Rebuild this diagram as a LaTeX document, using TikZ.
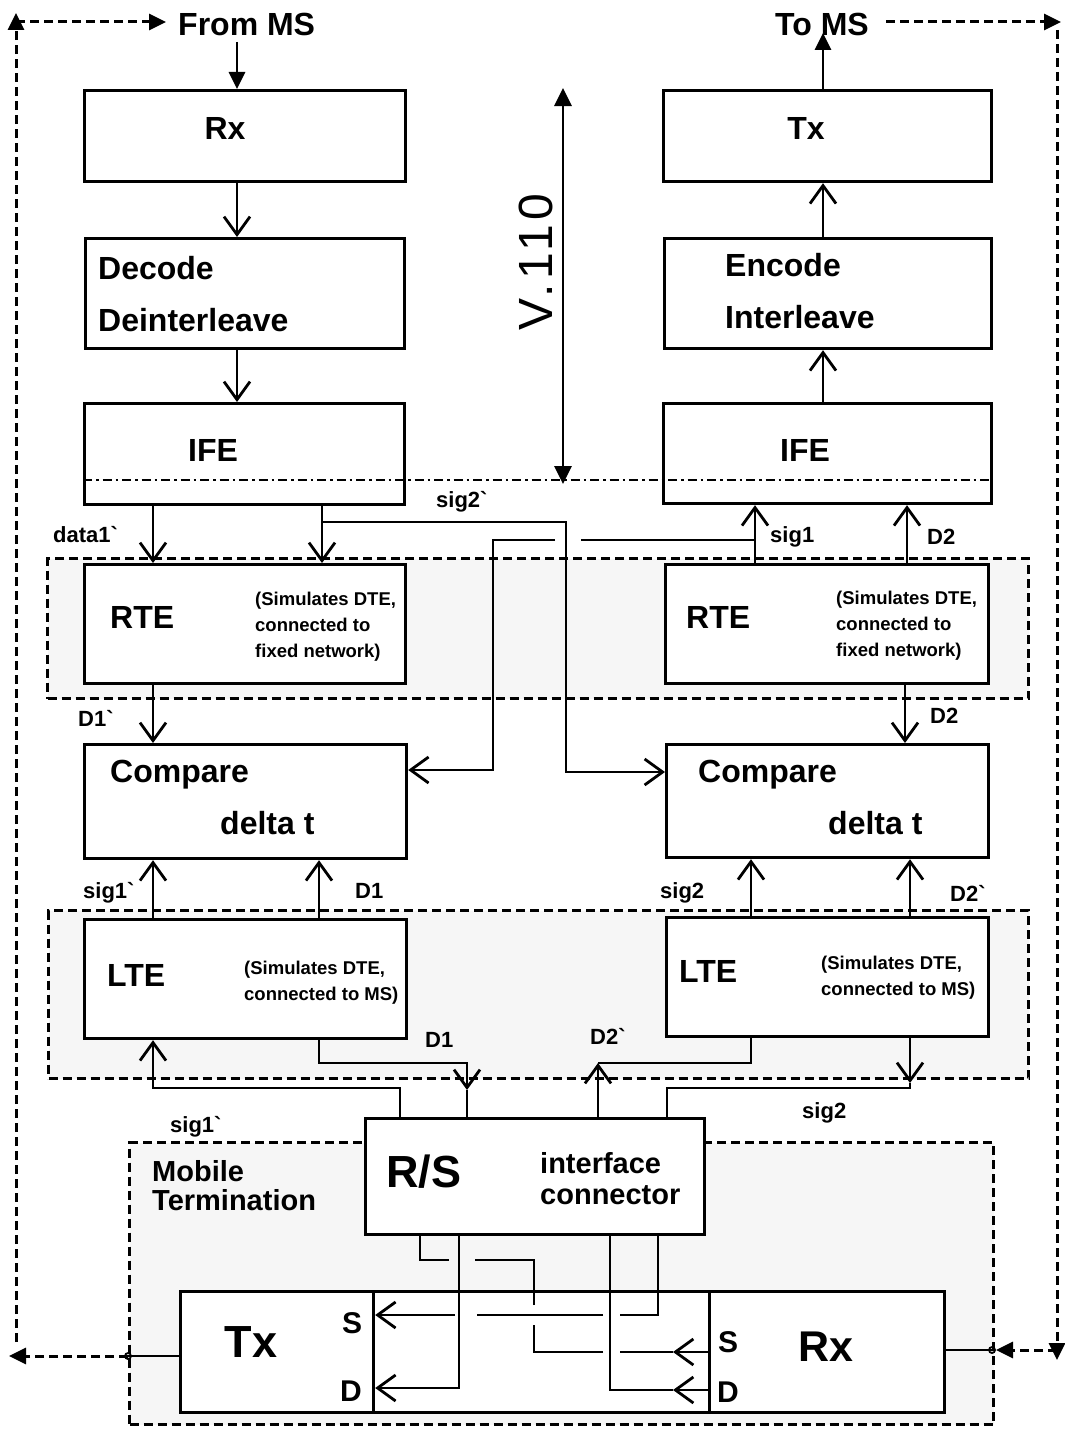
\documentclass[tikz,border=0pt]{standalone}
\usepackage{fontspec}
\setmainfont{Liberation Sans}[Ligatures=TeXOff]
\newfontfamily\vfont{Liberation Sans}[LetterSpace=10]
\usetikzlibrary{arrows.meta}
\begin{document}
\begin{tikzpicture}[x=1pt,y=-1pt,
  blk/.style={draw, line width=3.2pt, fill=white, rectangle, inner sep=0pt, anchor=north west},
  grp/.style={draw, line width=3pt, dash pattern=on 9pt off 5pt, fill=gray!7, rectangle, inner sep=0pt, anchor=north west},
  cn/.style={line width=2.8pt},
  barb/.style={cn, -{Straight Barb[length=18pt,width=26pt,line width=2.8pt]}},
  tri/.style={-{Triangle[length=17pt,width=16pt]}},
  outer/.style={line width=3pt, dash pattern=on 9pt off 5pt},
  dd/.style={line width=2.8pt, dash pattern=on 9pt off 4pt on 2.5pt off 4pt},
  big/.style={font=\fontsize{32}{32}\selectfont\bfseries, inner sep=0pt},
  huge/.style={font=\fontsize{45}{45}\selectfont\bfseries, inner sep=0pt},
  sml/.style={font=\fontsize{18.5}{26}\selectfont\bfseries, align=left, inner sep=0pt, anchor=west},
  lbl/.style={font=\fontsize{22}{22}\selectfont\bfseries, inner sep=0pt, anchor=west},
  lw/.style={big, anchor=west},
  two/.style={font=\fontsize{29}{29}\selectfont\bfseries, inner sep=0pt, anchor=west}
]
\useasboundingbox (0,0) rectangle (1065,1429);

% group boxes
\node[grp, minimum width=981pt, minimum height=140pt] (grp1) at (46,557) {};
\node[grp, minimum width=980pt, minimum height=168pt] (grp2) at (47,909) {};
\node[grp, minimum width=864pt, minimum height=282pt] (mt) at (128,1141) {};

% blocks
\node[blk, minimum width=321pt, minimum height=91pt] (rx1) at (83,89) {};
\node[blk, minimum width=319pt, minimum height=110pt] (dec) at (84,237) {};
\node[blk, minimum width=320pt, minimum height=101pt] (ife1) at (83,402) {};
\node[blk, minimum width=328pt, minimum height=91pt] (tx1) at (662,89) {};
\node[blk, minimum width=327pt, minimum height=110pt] (enc) at (663,237) {};
\node[blk, minimum width=328pt, minimum height=100pt] (ife2) at (662,402) {};
\node[blk, minimum width=321pt, minimum height=119pt] (rte1) at (83,563) {};
\node[blk, minimum width=323pt, minimum height=119pt] (rte2) at (664,563) {};
\node[blk, minimum width=322pt, minimum height=114pt] (cmp1) at (83,743) {};
\node[blk, minimum width=322pt, minimum height=113pt] (cmp2) at (665,743) {};
\node[blk, minimum width=322pt, minimum height=119pt] (lte1) at (83,918) {};
\node[blk, minimum width=322pt, minimum height=119pt] (lte2) at (665,916) {};
\node[blk, minimum width=339pt, minimum height=116pt] (rs) at (364,1117) {};
\node[blk, minimum width=336pt, minimum height=121pt] (midm) at (372,1290) {};
\node[blk, minimum width=193pt, minimum height=121pt] (txm) at (179,1290) {};
\node[blk, minimum width=235pt, minimum height=121pt] (rxm) at (708,1290) {};

% texts
\node[lw] (fromms) at (178,24) {From MS};
\node[lw] (toms) at (775,24) {To MS};
\node[big] (rx1t) at (225,128) {Rx};
\node[big] (tx1t) at (806,128) {Tx};
\node[lw] (dect1) at (98,268) {Decode};
\node[lw] (dect2) at (98,320) {Deinterleave};
\node[lw] (enct1) at (725,265) {Encode};
\node[lw] (enct2) at (725,317) {Interleave};
\node[big] (ife1t) at (213,450) {IFE};
\node[big] (ife2t) at (805,450) {IFE};
\node[lw] (rte1t) at (110,617) {RTE};
\node[sml] (rte1s) at (255,627) {(Simulates DTE,\\connected to\\fixed network)};
\node[lw] (rte2t) at (686,617) {RTE};
\node[sml] (rte2s) at (836,626) {(Simulates DTE,\\connected to\\fixed network)};
\node[lw] (cmp1a) at (110,775) {Compare};
\node[lw] (cmp1b) at (220,823) {delta t};
\node[lw] (cmp2a) at (698,775) {Compare};
\node[lw] (cmp2b) at (828,823) {delta t};
\node[lw] (lte1t) at (107,975) {LTE};
\node[sml] (lte1s) at (244,983) {(Simulates DTE,\\connected to MS)};
\node[lw] (lte2t) at (679,971) {LTE};
\node[sml] (lte2s) at (821,978) {(Simulates DTE,\\connected to MS)};
\node[huge, anchor=west] (rst) at (386,1172) {R/S};
\node[two] (rss1) at (540,1163) {interface};
\node[two] (rss2) at (540,1195) {connector};
\node[two] (mtt1) at (152,1171) {Mobile};
\node[two] (mtt2) at (152,1200) {Termination};
\node[huge] (txmt) at (251,1342) {Tx};
\node[huge, font=\fontsize{43}{43}\selectfont\bfseries] (rxmt) at (826,1347) {Rx};
\node[big, font=\fontsize{30}{30}\selectfont\bfseries] (txs) at (352,1323) {S};
\node[big, font=\fontsize{30}{30}\selectfont\bfseries] (txd) at (351,1391) {D};
\node[big, font=\fontsize{30}{30}\selectfont\bfseries] (rxs) at (728,1342) {S};
\node[big, font=\fontsize{30}{30}\selectfont\bfseries] (rxd) at (728,1392) {D};
\node[rotate=90, inner sep=0pt, font=\vfont\fontsize{48}{48}\selectfont] (v110) at (536,262) {V.110};

% labels
\node[lbl] (l1) at (436,502) {sig2`};
\node[lbl] (l2) at (53,535) {data1`};
\node[lbl] (l3) at (770,537) {sig1};
\node[lbl] (l4) at (927,537) {D2};
\node[lbl] (l5) at (78,718) {D1`};
\node[lbl] (l6) at (930,716) {D2};
\node[lbl] (l7) at (83,893) {sig1`};
\node[lbl] (l8) at (355,891) {D1};
\node[lbl] (l9) at (660,893) {sig2};
\node[lbl] (l10) at (950,893) {D2`};
\node[lbl] (l11) at (425,1040) {D1};
\node[lbl] (l12) at (590,1036) {D2`};
\node[lbl] (l13) at (170,1127) {sig1`};
\node[lbl] (l14) at (802,1113) {sig2};

% lane coordinates
\coordinate (xL) at (237,0);
\coordinate (xR) at (823,0);
\coordinate (xa) at (153,0);
\coordinate (xb) at (322,0);
\coordinate (xf) at (319,0);
\coordinate (xs1) at (755,0);
\coordinate (xd2) at (907,0);
\coordinate (xe) at (905,0);
\coordinate (xg) at (751,0);
\coordinate (xh) at (910,0);

% top arrows
\coordinate (fms) at (237,42);
\draw[cn,tri] (fms) -- (rx1.north -| fms);
\coordinate (tms) at (823,33);
\draw[cn,tri] (tx1.north -| tms) -- (tms);
\draw[barb] (rx1.south -| xL) -- (dec.north -| xL);
\draw[barb] (dec.south -| xL) -- (ife1.north -| xL);
\draw[barb] (ife2.north -| xR) -- (enc.south -| xR);
\draw[barb] (enc.north -| xR) -- (tx1.south -| xR);

% V.110 arrow and dash-dot line
\coordinate (va) at (563,88);
\coordinate (vb) at (563,484);
\draw[cn, {Triangle[length=18pt,width=17pt]}-{Triangle[length=18pt,width=17pt]}] (va) -- (vb);
\coordinate (dd1) at (83,480);
\coordinate (dd2) at (989,480);
\draw[dd] (dd1) -- (dd2);

% IFE -> RTE (left)
\draw[barb] (ife1.south -| xa) -- (rte1.north -| xa);
\draw[barb] (ife1.south -| xb) -- (rte1.north -| xb);
% RTE -> IFE (right)
\draw[barb] (rte2.north -| xs1) -- (ife2.south -| xs1);
\draw[barb] (rte2.north -| xd2) -- (ife2.south -| xd2);

% sig2` crossing
\coordinate (s2a) at (322,522);
\coordinate (s2b) at (566,522);
\coordinate (s2c) at (566,772);
\draw[barb] (s2a) -- (s2b) -- (s2c) -- (s2c -| cmp2.west);
% sig1 branch
\coordinate (s1a) at (755,540);
\coordinate (s1b) at (581,540);
\coordinate (s1c) at (555,540);
\coordinate (s1d) at (493,540);
\coordinate (s1e) at (493,770);
\draw[cn] (s1a) -- (s1b);
\draw[barb] (s1c) -- (s1d) -- (s1e) -- (s1e -| cmp1.east);

% RTE -> Compare
\draw[barb] (rte1.south -| xa) -- (cmp1.north -| xa);
\draw[barb] (rte2.south -| xe) -- (cmp2.north -| xe);
% LTE -> Compare
\draw[barb] (lte1.north -| xa) -- (cmp1.south -| xa);
\draw[barb] (lte1.north -| xf) -- (cmp1.south -| xf);
\draw[barb] (lte2.north -| xg) -- (cmp2.south -| xg);
\draw[barb] (lte2.north -| xh) -- (cmp2.south -| xh);

% LTE <-> R/S
\coordinate (q1) at (400,1088);
\coordinate (q2) at (153,1088);
\draw[barb] (rs.north -| q1) -- (q1) -- (q2) -- (lte1.south -| q2);
\coordinate (p1) at (319,1063);
\coordinate (p2) at (467,1063);
\coordinate (p3) at (467,1090);
\draw[barb] (lte1.south -| p1) -- (p1) -- (p2) -- (p3);
\draw[cn] (p3) -- (rs.north -| p3);
\coordinate (m1) at (598,1063);
\coordinate (m2) at (751,1063);
\draw[barb] (rs.north -| m1) -- (m1);
\draw[cn] (m1) -- (m2) -- (lte2.south -| m2);
\coordinate (n1) at (910,1083);
\coordinate (n2) at (910,1088);
\coordinate (n3) at (667,1088);
\draw[barb] (lte2.south -| n1) -- (n1);
\draw[cn] (n1) -- (n2) -- (n3) -- (rs.north -| n3);

% bottom wiring
\coordinate (a0) at (673,1352);
\coordinate (a1) at (620,1352);
\coordinate (a2) at (603,1352);
\coordinate (a3) at (534,1352);
\coordinate (a4) at (534,1325);
\coordinate (a5) at (534,1305);
\coordinate (a6) at (534,1260);
\coordinate (a7) at (475,1260);
\coordinate (a8) at (449,1260);
\coordinate (a9) at (420,1260);
\draw[barb] (rxm.west |- a0) -- (a0);
\draw[cn] (a0) -- (a1);
\draw[cn] (a2) -- (a3) -- (a4);
\draw[cn] (a5) -- (a6) -- (a7);
\draw[cn] (a8) -- (a9) -- (rs.south -| a9);

\coordinate (b1) at (658,1315);
\coordinate (b2) at (620,1315);
\coordinate (b3) at (603,1315);
\coordinate (b4) at (477,1315);
\coordinate (b5) at (455,1315);
\draw[cn] (rs.south -| b1) -- (b1) -- (b2);
\draw[cn] (b3) -- (b4);
\draw[barb] (b5) -- (txm.east |- b5);

\coordinate (c1) at (459,1388);
\draw[barb] (rs.south -| c1) -- (c1) -- (txm.east |- c1);

\coordinate (d0) at (673,1390);
\coordinate (d1) at (610,1390);
\draw[barb] (rxm.west |- d0) -- (d0);
\draw[cn] (d0) -- (d1) -- (rs.south -| d1);

% outer loop left
\coordinate (ol1) at (128,1356);
\coordinate (ol2) at (9,1356);
\coordinate (ol3) at (16,1342);
\coordinate (ol4) at (16,13);
\coordinate (ol5) at (16,22);
\coordinate (ol6) at (166,22);
\draw[cn] (txm.west |- ol1) -- (ol1);
\draw[line width=1.8pt] (ol1) circle (3pt);
\draw[outer,tri] (ol1) -- (ol2);
\draw[outer,tri] (ol3) -- (ol4);
\draw[outer,tri] (ol5) -- (ol6);

% outer loop right
\coordinate (or1) at (886,22);
\coordinate (or2) at (1061,22);
\coordinate (or3) at (1057,30);
\coordinate (or4) at (1057,1360);
\coordinate (or5) at (1057,1350);
\coordinate (or6) at (996,1350);
\coordinate (or7) at (992,1350);
\draw[outer,tri] (or1) -- (or2);
\draw[outer,tri] (or3) -- (or4);
\draw[outer,tri] (or5) -- (or6);
\draw[cn] (rxm.east |- or7) -- (or7);
\draw[line width=1.8pt] (or7) circle (3pt);
\end{tikzpicture}
\end{document}
